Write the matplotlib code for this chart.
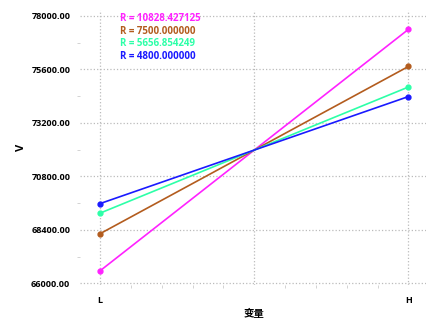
import matplotlib.pyplot as plt
from matplotlib.ticker import MultipleLocator

plt.rcParams['font.family'] = ['Open Sans', 'Noto Sans CJK SC', 'DejaVu Sans']

levels = [0, 1]
level_labels = ["L", "", "H"]
series_names = ["R = 10828.427125", "R = 7500.000000", "R = 5656.854249", "R = 4800.000000"]
series_values = [
    [66566, 77394],
    [68230, 75730],
    [69152, 74808],
    [69580, 74380],
]
series_colors = ["#ff22ff", "#b35c1e", "#2dffa8", "#1a1aff"]
y_ticks = [66000, 68400, 70800, 73200, 75600, 78000]

fig = plt.figure(figsize=(4.27, 3.21), dpi=100)
ax = fig.add_axes([80 / 427, 1 - 285 / 321, 1 - 80 / 427, (285 - 10) / 321])

for name, vals, c in zip(series_names, series_values, series_colors):
    ax.plot(levels, vals, color=c, lw=1.2, marker="o", ms=3.5, label=name)

ax.set_xlim(-0.065, 1.06)
ax.set_ylim(65930, 78260)
ax.set_xticks([0, 0.5, 1])
ax.set_xticklabels(level_labels, fontsize=6.5, fontweight="bold")
ax.set_yticks(y_ticks)
ax.set_yticklabels([f"{v:.2f}" for v in y_ticks], fontsize=6.5, fontweight="bold")
ax.xaxis.set_minor_locator(MultipleLocator(0.1))
ax.yaxis.set_minor_locator(MultipleLocator(1200))
ax.tick_params(which="major", length=0)
ax.tick_params(axis="y", which="major", pad=7)
ax.tick_params(axis="x", which="major", pad=8)
ax.tick_params(which="minor", length=2, color="#cccccc")
ax.grid(True, which="major", ls=":", color="#bbbbbb", lw=0.9)
for s in ax.spines.values():
    s.set_visible(False)

ax.set_xlabel("变量", fontsize=7.5, fontweight="bold", labelpad=3,
              family=['Noto Sans CJK SC', 'DejaVu Sans'])
ax.set_ylabel("V", fontsize=8, fontweight="bold", labelpad=3)

leg = ax.legend(loc="upper left", bbox_to_anchor=(0.09, 1.02), frameon=False,
                handlelength=0, handletextpad=0, markerscale=0,
                prop={"size": 7, "weight": "bold"}, labelspacing=0.15)
for txt, c in zip(leg.get_texts(), series_colors):
    txt.set_color(c)
for h in leg.legend_handles:
    h.set_visible(False)

fig.savefig("out.png", dpi=100)
